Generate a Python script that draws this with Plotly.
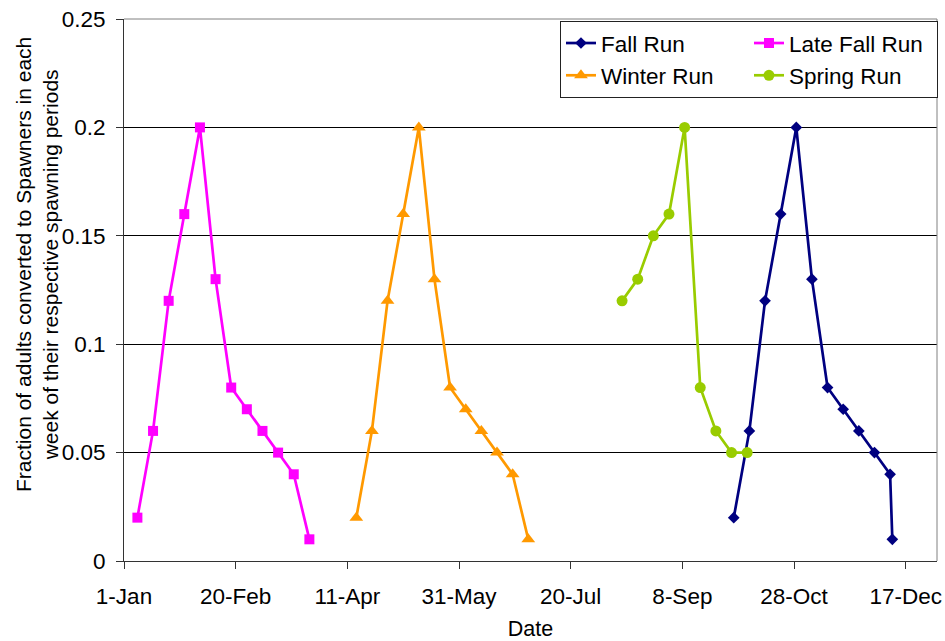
import plotly.graph_objects as go

# ---- data ----
fall_dates = ["2001-10-01", "2001-10-08", "2001-10-15", "2001-10-22", "2001-10-29", "2001-11-05",
              "2001-11-12", "2001-11-19", "2001-11-26", "2001-12-03", "2001-12-10", "2001-12-11"]
fall_vals = [0.02, 0.06, 0.12, 0.16, 0.20, 0.13, 0.08, 0.07, 0.06, 0.05, 0.04, 0.01]

late_fall_dates = ["2001-01-07", "2001-01-14", "2001-01-21", "2001-01-28", "2001-02-04", "2001-02-11",
                   "2001-02-18", "2001-02-25", "2001-03-04", "2001-03-11", "2001-03-18", "2001-03-25"]
late_fall_vals = [0.02, 0.06, 0.12, 0.16, 0.20, 0.13, 0.08, 0.07, 0.06, 0.05, 0.04, 0.01]

winter_dates = ["2001-04-15", "2001-04-22", "2001-04-29", "2001-05-06", "2001-05-13", "2001-05-20",
                "2001-05-27", "2001-06-03", "2001-06-10", "2001-06-17", "2001-06-24", "2001-07-01"]
winter_vals = [0.02, 0.06, 0.12, 0.16, 0.20, 0.13, 0.08, 0.07, 0.06, 0.05, 0.04, 0.01]

spring_dates = ["2001-08-12", "2001-08-19", "2001-08-26", "2001-09-02", "2001-09-09", "2001-09-16",
                "2001-09-23", "2001-09-30", "2001-10-07"]
spring_vals = [0.12, 0.13, 0.15, 0.16, 0.20, 0.08, 0.06, 0.05, 0.05]

x_tick_dates = ["2001-01-01", "2001-02-20", "2001-04-11", "2001-05-31",
                "2001-07-20", "2001-09-08", "2001-10-28", "2001-12-17"]
x_tick_labels = ["1-Jan", "20-Feb", "11-Apr", "31-May", "20-Jul", "8-Sep", "28-Oct", "17-Dec"]

y_tick_vals = [0, 0.05, 0.10, 0.15, 0.20, 0.25]
y_tick_labels = ["0", "0.05", "0.1", "0.15", "0.2", "0.25"]

FONT = "Liberation Sans, Arial, sans-serif"
TICK_SIZE = 22.5

series = [
    ("Fall Run", fall_dates, fall_vals, "#000080", "diamond", 9),
    ("Late Fall Run", late_fall_dates, late_fall_vals, "#FF00FF", "square", 10),
    ("Winter Run", winter_dates, winter_vals, "#FF9900", "triangle-up", 12),
    ("Spring Run", spring_dates, spring_vals, "#99CC00", "circle", 11),
]

fig = go.Figure()
for name, xs, ys, col, sym, size in series:
    fig.add_trace(go.Scatter(
        x=xs, y=ys, name=name, mode="lines+markers",
        line=dict(color=col, width=2.7),
        marker=dict(color=col, symbol=sym, size=size, line=dict(width=0)),
    ))

fig.update_layout(
    width=945, height=641,
    margin=dict(l=124, r=8, t=19, b=80, autoexpand=False),
    paper_bgcolor="white", plot_bgcolor="white",
    font=dict(family=FONT, size=TICK_SIZE, color="black"),
    showlegend=True,
    legend=dict(
        orientation="h", x=1.0012, xanchor="right", y=0.9965, yanchor="top",
        bordercolor="#222222", borderwidth=1, bgcolor="white",
        entrywidth=143, traceorder="normal",
        font=dict(family=FONT, size=TICK_SIZE, color="black"),
    ),
    xaxis=dict(
        type="date", range=["2001-01-01", "2001-12-31"],
        tickmode="array", tickvals=x_tick_dates, ticktext=x_tick_labels,
        ticks="outside", ticklen=7, tickcolor="#333333", tickwidth=1,
        ticklabelstandoff=8, ticklabeloverflow="allow",
        showline=True, linecolor="#333333", linewidth=1,
        showgrid=False, zeroline=False,
        tickfont=dict(family=FONT, size=TICK_SIZE, color="black"),
        title=dict(text="Date", font=dict(family=FONT, size=21.5, color="black"), standoff=12),
    ),
    yaxis=dict(
        range=[0, 0.25],
        tickmode="array", tickvals=y_tick_vals, ticktext=y_tick_labels,
        ticks="outside", ticklen=7, tickcolor="#333333", tickwidth=1,
        ticklabelstandoff=6, ticklabeloverflow="allow",
        showline=True, linecolor="#333333", linewidth=1,
        showgrid=True, gridcolor="#000000", gridwidth=1, zeroline=False,
        tickfont=dict(family=FONT, size=TICK_SIZE, color="black"),
    ),
    annotations=[dict(
        text="Fraction of adults converted to Spawners in each<br>week of their respective spawning periods",
        textangle=-90, xref="paper", yref="paper", x=0, y=0.5,
        xanchor="center", yanchor="middle", xshift=-87, yshift=25,
        showarrow=False, font=dict(family=FONT, size=21, color="black"),
    )],
    shapes=[
        dict(type="line", xref="paper", yref="paper", x0=0, x1=1, y0=1, y1=1,
             line=dict(color="#808080", width=1), layer="above"),
        dict(type="line", xref="paper", yref="paper", x0=1, x1=1, y0=0, y1=1,
             line=dict(color="#808080", width=1), layer="above"),
    ],
)

fig.write_html("out.html", config={"displayModeBar": False},
               post_script="document.body.style.margin='0px';")
